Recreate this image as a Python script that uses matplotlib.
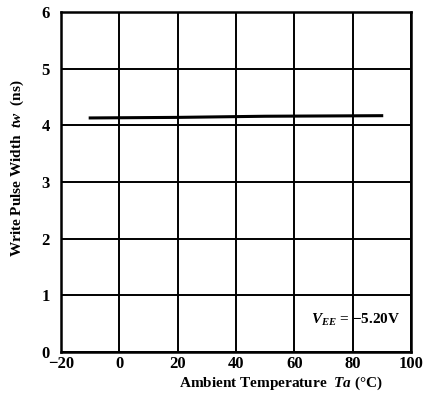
import matplotlib
matplotlib.use('Agg')
import matplotlib.pyplot as plt

# data
temps = [-10, 20, 50, 90]
pulse_width = [4.13, 4.14, 4.16, 4.17]
x_ticks = [-20, 0, 20, 40, 60, 80, 100]
x_labels = ['\u221220', '0', '20', '40', '60', '80', '100']
y_ticks = [0, 1, 2, 3, 4, 5, 6]

plt.rcParams['font.family'] = ['Liberation Serif', 'DejaVu Serif']
plt.rcParams['mathtext.fontset'] = 'custom'
plt.rcParams['mathtext.rm'] = 'Liberation Serif:bold'
plt.rcParams['mathtext.it'] = 'Liberation Serif:italic:bold'
plt.rcParams['mathtext.bf'] = 'Liberation Serif:bold'

fig = plt.figure(figsize=(4.24, 3.97), dpi=100)
ax = fig.add_axes([0.144, 0.113, 0.825, 0.857])

ax.plot(temps, pulse_width, color='black', linewidth=2.2)

ax.set_xlim(-20, 100)
ax.set_ylim(0, 6)
ax.set_xticks(x_ticks)
ax.set_xticklabels(x_labels, fontsize=12, fontweight='bold')
ax.set_yticks(y_ticks)
ax.set_yticklabels([str(v) for v in y_ticks], fontsize=12, fontweight='bold')
ax.tick_params(axis='x', length=0, pad=3)
ax.tick_params(axis='y', length=0, pad=8)
ax.grid(True, color='black', linewidth=1.4)
for s in ax.spines.values():
    s.set_linewidth(1.8)

ax.set_xlabel('Ambient Temperature  $Ta$ (\u00b0C)', fontsize=11,
              fontweight='bold')
ax.xaxis.set_label_coords(0.63, -0.065)
ax.set_ylabel('Write Pulse Width  $tw$  (ns)', fontsize=11,
              fontweight='bold')
ax.yaxis.set_label_coords(-0.10, 0.54)
ax.text(0.97, 0.07, '$V_{EE}$ = \u22125.20V', transform=ax.transAxes,
        ha='right', va='bottom', fontsize=11, fontweight='bold')

fig.savefig('out.png', dpi=100)
